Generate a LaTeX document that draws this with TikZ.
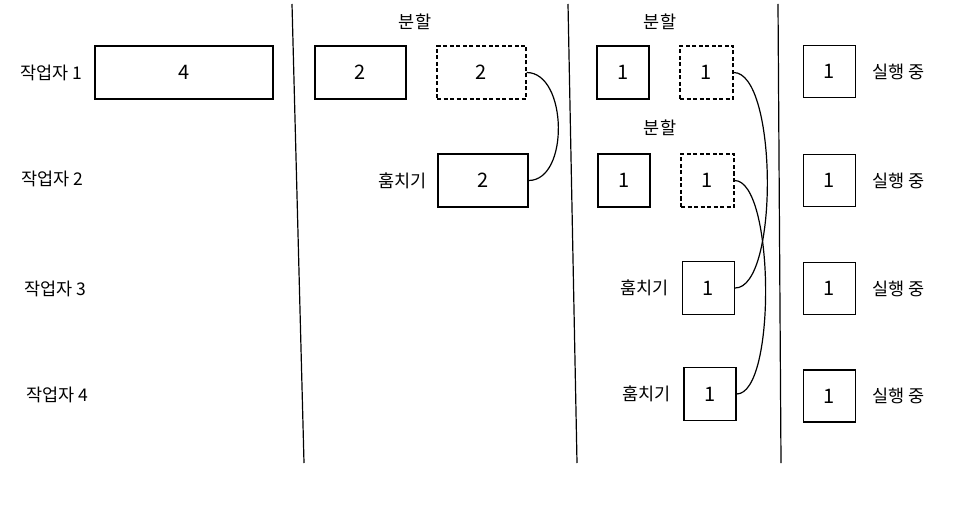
\documentclass[tikz,border=0pt]{standalone}
\usepackage{fontspec}
\setmainfont{Noto Sans CJK KR}
\usetikzlibrary{positioning}

\begin{document}
\begin{tikzpicture}[x=1pt,y=-1pt,line width=1.2pt,
    task/.style={draw,minimum height=53pt,font=\fontsize{20}{22}\selectfont},
    split/.style={task,dash pattern=on 4pt off 2.5pt},
    lbl/.style={font=\fontsize{17.5}{19}\selectfont}]
  \useasboundingbox (0,0) rectangle (960,505);

  % separators
  \draw (292,4) -- (304,463);
  \draw (568,4) -- (577,463);
  \draw (778,4) -- (781,463);

  % workers
  \node[lbl] (w1) at (51,73) {작업자 1};
  \node[lbl] (w2) at (52,179) {작업자 2};
  \node[lbl] (w3) at (55,289) {작업자 3};
  \node[lbl] (w4) at (57,395) {작업자 4};
  \node[task,minimum width=178pt] (t4) at (184,72.5) {4};

  % first split
  \node[lbl] (s1) at (415,22) {분할};
  \node[task,minimum width=91pt] (a1) at (360.5,72.5) {2};
  \node[split,minimum width=89pt] (a2) at (481.5,72.5) {2};
  \node[task,minimum width=90pt] (b1) at (483,180.5) {2};
  \node[lbl,left=7pt of b1] (st1) {훔치기};
  \draw (a2.east) .. controls ++(41,0) and ++(41,0) .. (b1.east);

  % second split
  \node[lbl] (s2) at (660,22) {분할};
  \node[task,minimum width=52pt] (c1) at (623,72.5) {1};
  \node[split,minimum width=53pt] (c2) at (706.5,72.5) {1};
  \node[lbl] (s3) at (660,128) {분할};
  \node[task,minimum width=52pt] (d1) at (624,180.5) {1};
  \node[split,minimum width=53pt] (d2) at (707.5,180.5) {1};
  \node[task,minimum width=52pt] (e1) at (708.5,288) {1};
  \node[lbl,left=9pt of e1] (st2) {훔치기};
  \node[task,minimum width=52pt] (f1) at (710,394) {1};
  \node[lbl,left=9pt of f1] (st3) {훔치기};
  \draw (c2.east) .. controls ++(44,0) and ++(44,0) .. (e1.east);
  \draw (d2.east) .. controls ++(40,0) and ++(40,0) .. (f1.east);

  % running
  \foreach \y/\n in {71.5/1,180.5/2,288.5/3,396/4}{
    \node[task,minimum width=52pt,minimum height=52pt] (r\n) at (829.5,\y) {1};
    \node[lbl,right=12pt of r\n] (rl\n) {실행 중};
  }
\end{tikzpicture}
\end{document}
